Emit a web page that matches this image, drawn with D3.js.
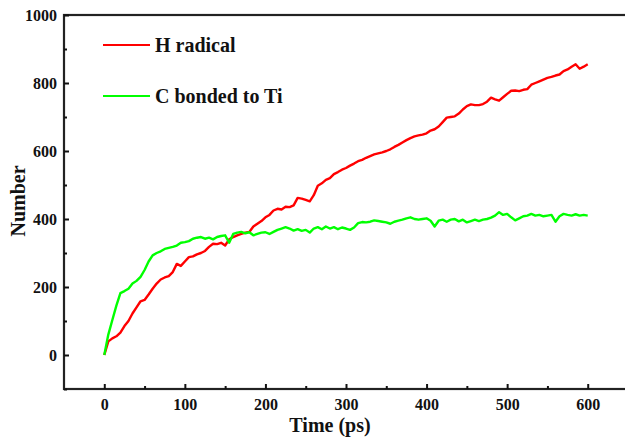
<!DOCTYPE html>
<html><head><meta charset="utf-8">
<script src="https://cdn.jsdelivr.net/npm/d3@7"></script>
<style>html,body{margin:0;padding:0;background:#fff;overflow:hidden}</style>
</head><body><svg id="c" width="625" height="439"></svg>
<script>
const timeStep = 5;
const hRadical = [0,40,49,55,66,85,100,122,140,158,162,178,195,210,222,228,232,244,268,262,275,288,290,296,300,306,318,327,326,330,322,340,347,352,356,360,362,378,386,394,405,412,425,430,428,436,435,440,462,460,456,452,470,498,505,515,520,532,538,545,550,557,563,570,574,580,585,590,593,596,600,605,612,618,625,632,638,643,646,648,652,660,664,672,685,698,700,702,710,722,732,737,735,735,738,745,757,752,748,758,768,777,778,776,780,782,795,800,805,810,815,818,822,825,835,840,848,855,842,848,855];
const cBonded = [0,60,103,145,182,188,195,210,218,230,250,275,293,300,305,312,315,318,322,330,332,335,342,345,347,342,345,340,347,350,352,330,356,360,362,358,361,352,356,360,361,356,362,368,372,376,372,366,370,365,368,360,372,376,370,378,372,376,370,375,372,368,375,388,391,390,392,396,394,392,390,386,392,395,398,402,405,400,398,400,402,395,378,395,398,392,398,400,393,398,390,394,398,394,398,400,404,410,420,412,415,405,396,402,408,410,415,410,412,408,410,412,392,408,415,412,410,414,410,412,410];
const seriesNames = ["H radical","C bonded to Ti"];
const seriesColors = ["#ff0000","#00ff00"];
const xTicks = [0,100,200,300,400,500,600];
const yTicks = [0,200,400,600,800,1000];

const FONT = "Liberation Serif";
const svg = d3.select("#c");
const L = 64, T = 15, B = 389, R = 628;
const x = d3.scaleLinear().domain([-50,650]).range([L,R]);
const y = d3.scaleLinear().domain([-100,1000]).range([B,T]);

const mk = arr => arr.map((v,i)=>[i*timeStep,v]);
const line = d3.line().x(d=>x(d[0])).y(d=>y(d[1]));
[hRadical,cBonded].forEach((s,i)=>{
  svg.append("path").attr("d",line(mk(s))).attr("fill","none")
    .attr("stroke",seriesColors[i]).attr("stroke-width",2.4).attr("stroke-linejoin","round");
});

// frame
svg.append("rect").attr("x",L).attr("y",T).attr("width",R-L).attr("height",B-T)
  .attr("fill","none").attr("stroke","#222").attr("stroke-width",2.2);

// x axis
const xa = svg.append("g").attr("transform",`translate(0,${B})`)
  .call(d3.axisBottom(x).tickValues(xTicks).tickSize(-5).tickFormat(d3.format("d")));
xa.select(".domain").remove();
svg.append("g").attr("transform",`translate(0,${B})`)
  .call(d3.axisBottom(x).tickValues(d3.range(50,650,100)).tickSize(-3).tickFormat(""))
  .select(".domain").remove();
// y axis
const ya = svg.append("g").attr("transform",`translate(${L},0)`)
  .call(d3.axisLeft(y).tickValues(yTicks).tickSize(-5).tickFormat(d3.format("d")));
ya.select(".domain").remove();
svg.append("g").attr("transform",`translate(${L},0)`)
  .call(d3.axisLeft(y).tickValues([-100,100,300,500,700,900]).tickSize(-3).tickFormat(""))
  .select(".domain").remove();

svg.selectAll("g").attr("font-family",FONT);
svg.selectAll(".tick line").attr("stroke","#111").attr("stroke-width",2);
svg.selectAll(".tick text").attr("font-family",FONT).attr("font-weight","bold")
  .attr("font-size",16).attr("fill","#111");
xa.selectAll(".tick text").attr("y",21).attr("dy",null);
ya.selectAll(".tick text").attr("x",-7).attr("dy","0.33em");

// axis titles
svg.append("text").attr("x",330).attr("y",432).attr("text-anchor","middle")
  .attr("font-family",FONT).attr("font-weight","bold")
  .attr("font-size",20).attr("fill","#111").text("Time (ps)");
svg.append("text").attr("transform","translate(25,201) rotate(-90)").attr("text-anchor","middle")
  .attr("font-family",FONT).attr("font-weight","bold")
  .attr("font-size",20).attr("fill","#111").text("Number");

// legend
const ly = [45,96];
const lt = [51.5,103];
seriesNames.forEach((n,i)=>{
  svg.append("line").attr("x1",103).attr("x2",150).attr("y1",ly[i]).attr("y2",ly[i])
    .attr("stroke",seriesColors[i]).attr("stroke-width",1.8);
  svg.append("text").attr("x",155).attr("y",lt[i])
    .attr("font-family",FONT).attr("font-weight","bold")
    .attr("font-size",20).attr("fill","#111").text(n);
});
</script></body></html>
